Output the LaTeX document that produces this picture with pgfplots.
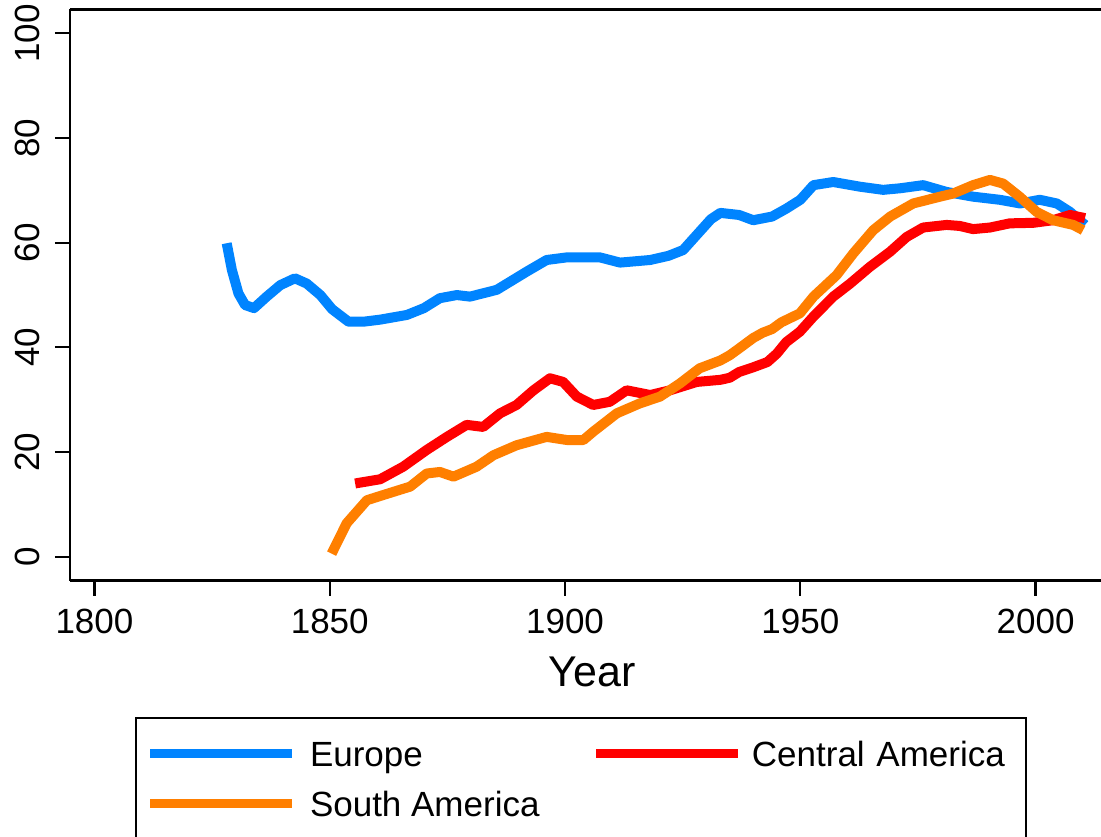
\documentclass[border=0pt]{standalone}
\usepackage{fontspec}
\setmainfont{Liberation Sans}
\usepackage{pgfplots}
\pgfplotsset{compat=1.18}
\definecolor{eublue}{RGB}{0,132,255}
\definecolor{samorange}{RGB}{255,127,0}
\definecolor{camred}{RGB}{255,0,0}
\begin{document}
\begin{tikzpicture}
\begin{axis}[
  at={(0,0)}, anchor=south west,
  scale only axis, width=515.5bp, height=285.7bp,
  xmin=1794.8, xmax=2013.9, ymin=-4.58, ymax=104.6,
  axis x line*=box, axis y line*=left,
  axis line style={line width=1.3bp, black},
  xtick={1800,1850,1900,1950,2000},
  ytick={0,20,40,60,80,100},
  tick align=outside, xtick pos=bottom, ytick pos=left,
  major tick length=7.5bp,
  tick style={line width=1.1bp, black},
  minor tick num=0,
  /pgf/number format/1000 sep={},
  /pgf/number format/assume math mode=true,
  ticklabel style={font=\fontsize{17.5bp}{21bp}\selectfont},
  xticklabel style={anchor=north, inner sep=0pt, yshift=-6.5bp},
  yticklabel style={rotate=90, anchor=south, inner sep=0pt, yshift=7.5bp},
  xlabel={Year},
  xlabel style={at={(axis description cs:0.5063,0)}, anchor=north, inner sep=0pt, yshift=-38.15bp, font=\fontsize{21.5bp}{26bp}\selectfont},
  legend columns=2,
  legend cell align=left,
  legend style={
    at={(0.06305,-0.2385)}, anchor=north west,
    draw=black, line width=1bp,
    inner xsep=4.85bp, inner ysep=11.45bp,
    font=\fontsize{17.5bp}{21bp}\selectfont,
    nodes={inner sep=0pt, text height=12.8bp, text depth=0pt, anchor=west},
    row sep=12.2bp,
    /tikz/column 1/.style={column sep=6.65bp},
    /tikz/column 2/.style={column sep=26.2bp},
    /tikz/column 3/.style={column sep=4.5bp},
    /tikz/column 4/.style={nodes={text width=132bp, align=left}},
  },
  legend image code/.code={\draw[#1, line width=4.5bp] (0bp,0bp) -- (71bp,0bp);},
]
\addplot[eublue, line width=5bp, line join=round] coordinates {
(1828.1,59.9) (1829.2,54.8) (1830.6,50.3) (1832.0,48.1) (1833.9,47.5) (1836.6,49.7) (1839.5,51.9) (1842.6,53.2) (1845.1,52.2) (1848.0,50.0) (1850.5,47.3) (1854.0,44.9) (1857.1,44.9) (1860.7,45.3) (1866.4,46.2) (1870,47.5) (1873.4,49.4) (1877.0,50.0) (1879.8,49.7) (1885.5,51.0) (1891.9,54.5) (1896.1,56.7) (1900.4,57.2) (1907.4,57.2) (1911.7,56.2) (1918.1,56.7) (1922,57.5) (1925.1,58.6) (1928,61.5) (1931,64.5) (1933,65.7) (1937,65.3) (1940,64.3) (1944,65) (1947,66.5) (1950,68.2) (1952.8,71.0) (1957.0,71.6) (1962.7,70.7) (1967.6,70.1) (1971.2,70.4) (1976.1,71.0) (1981.1,69.7) (1986.7,68.8) (1992.4,68.2) (1996.7,67.5) (2000.9,68.2) (2004.5,67.5) (2007.3,65.9) (2010.5,63.4)
};
\addlegendentry{Europe}
\addplot[camred, line width=5bp, line join=round] coordinates {
(1855.4,14.0) (1860.7,14.8) (1865.6,17.2) (1870.6,20.4) (1874.9,22.9) (1879.1,25.2) (1882.6,24.8) (1886.2,27.4) (1889.7,29.0) (1893.3,31.8) (1896.8,34.1) (1899.6,33.4) (1902.5,30.6) (1906.0,29.0) (1909.5,29.6) (1913.1,31.8) (1918.1,30.9) (1922.3,31.8) (1928.0,33.4) (1933,33.8) (1935,34.2) (1937,35.3) (1940,36.2) (1943,37.2) (1945,38.8) (1947,41) (1949.9,43.0) (1952.8,45.9) (1957.0,49.7) (1960.6,52.2) (1964.8,55.4) (1969.1,58.3) (1972.6,61.1) (1976.1,62.9) (1981.1,63.4) (1983.9,63.2) (1986.7,62.6) (1990.3,62.9) (1994.5,63.7) (1999.5,63.8) (2003.7,64.3) (2007.3,65.3) (2010.5,64.7)
};
\addlegendentry{Central America}
\addplot[samorange, line width=5bp, line join=round] coordinates {
(1850.4,0.6) (1853.6,6.4) (1857.9,10.8) (1861.4,11.8) (1867.1,13.4) (1870.6,15.9) (1873.4,16.2) (1876.3,15.3) (1881.2,17.2) (1884.8,19.4) (1889.7,21.3) (1896.1,22.9) (1900.4,22.3) (1903.9,22.3) (1906.0,23.9) (1911.0,27.4) (1915.9,29.3) (1920.2,30.6) (1924.4,33.1) (1928.6,36.0) (1933,37.5) (1935,38.5) (1937,39.8) (1940,41.8) (1942,42.8) (1944,43.5) (1946,44.8) (1949.9,46.5) (1952.8,49.7) (1957.7,53.8) (1961.3,58.0) (1965.5,62.4) (1969.1,65.0) (1974.0,67.5) (1979.7,68.8) (1982.5,69.4) (1986.7,71.0) (1990.3,72.0) (1993.1,71.3) (1996.6,68.8) (2000.2,65.9) (2003.7,64.3) (2008.0,63.4) (2010.1,62.4)
};
\addlegendentry{South America}
\end{axis}
\pgfresetboundingbox
\path[use as bounding box] (-35bp,-128.15bp) rectangle (515.5bp,290.35bp);
\end{tikzpicture}
\end{document}
